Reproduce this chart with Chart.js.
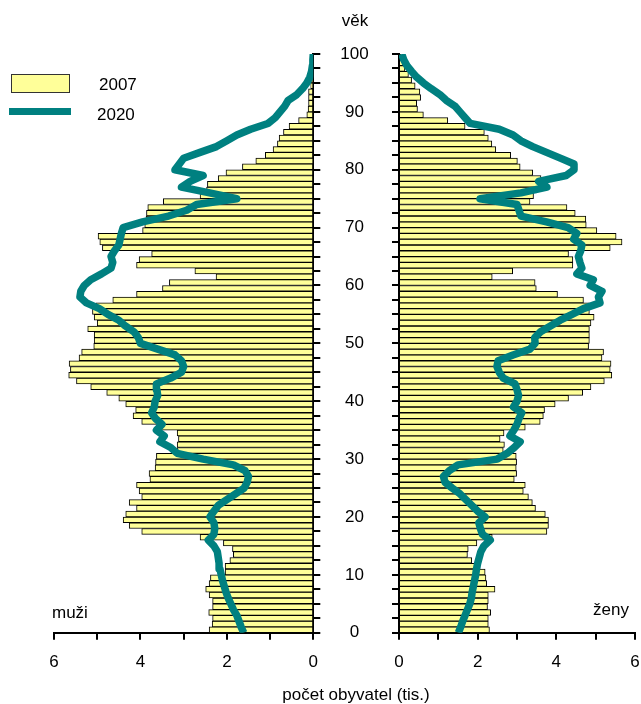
<!DOCTYPE html>
<html>
<head>
<meta charset="utf-8">
<script src="https://cdn.jsdelivr.net/npm/chart.js@4"></script>
<style>
html,body{margin:0;padding:0;background:#fff;}
#wrap{position:relative;width:641px;height:704px;overflow:hidden;font-family:"Liberation Sans",Arial,Helvetica,sans-serif;color:#000;}
canvas{position:absolute;top:0;}
.t{position:absolute;font-size:17px;line-height:17px;white-space:nowrap;}
.c{transform:translateX(-50%);}
</style>
</head>
<body>
<div id="wrap">
  <canvas id="cL" width="400" height="704" style="left:0;width:400px;height:704px"></canvas>
  <canvas id="cR" width="340" height="704" style="left:313px;width:340px;height:704px"></canvas>
  <div class="t c" style="left:355px;top:12px">věk</div>
  <div style="position:absolute;left:11px;top:74px;width:57px;height:17px;background:#FFFF99;border:1px solid #333;"></div>
  <div style="position:absolute;left:9px;top:108px;width:62px;height:7px;background:#008080;"></div>
  <div class="t" style="left:99px;top:76px">2007</div>
  <div class="t" style="left:97px;top:106px">2020</div>
  <div class="t" style="left:52px;top:604px">muži</div>
  <div class="t" style="left:593px;top:601px">ženy</div>
  <div class="t c" style="left:356px;top:686px">počet obyvatel (tis.)</div>
</div>
<script>
// ---- data ----
const barAges = Array.from({length: 100}, (_, i) => i);      // 0..99 (one-year groups)
const lineAges = Array.from({length: 101}, (_, i) => i);     // 0..100
const xTickLabels = [0, 2, 4, 6];
const ageTickLabels = [0, 10, 20, 30, 40, 50, 60, 70, 80, 90, 100];

// muži 2007 (tis.)
const men2007 = [
 2.41,2.34,2.33,2.42,2.33,2.33,2.41,2.49,2.41,2.38,
 2.04,2.04,1.93,1.85,1.87,2.08,2.62,3.97,4.26,4.40,
 4.34,4.09,4.26,3.97,4.03,4.09,3.78,3.80,3.66,3.65,
 3.63,3.15,3.15,3.12,3.15,3.60,3.97,4.17,4.11,4.34,
 4.50,4.78,5.15,5.48,5.66,5.62,5.65,5.42,5.36,5.08,
 5.07,5.07,5.22,5.00,5.07,5.11,5.03,4.64,4.09,3.49,
 3.33,2.25,2.74,4.09,4.03,3.74,4.88,4.94,4.98,3.95,
 3.90,3.87,3.86,3.83,3.47,2.62,2.47,2.45,2.20,2.02,
 1.64,1.33,1.11,0.93,0.83,0.79,0.69,0.56,0.34,0.15,
 0.12,0.11,0.11,0.11,0.06,0.05,0.04,0.03,0.02,0.01
];
// ženy 2007 (tis.)
const women2007 = [
 2.30,2.27,2.27,2.33,2.25,2.27,2.27,2.44,2.23,2.21,
 2.19,2.06,1.85,1.74,1.76,1.98,2.37,3.76,3.80,3.80,
 3.72,3.47,3.39,3.29,3.16,3.21,2.93,2.99,2.98,2.99,
 2.98,2.65,2.68,2.57,2.67,3.21,3.59,3.67,3.70,3.97,
 4.31,4.67,4.88,5.22,5.41,5.37,5.39,5.16,5.20,4.82,
 4.84,4.84,4.84,4.88,4.96,4.84,4.84,4.69,4.03,3.49,
 3.46,2.37,2.89,4.42,4.42,4.31,5.37,5.67,5.52,5.03,
 4.76,4.75,4.48,4.27,3.33,3.42,3.50,3.63,3.61,3.40,
 3.08,3.01,2.84,2.46,2.36,2.27,2.17,1.68,1.24,0.62,
 0.47,0.45,0.55,0.53,0.41,0.32,0.24,0.15,0.11,0.05
];
// muži 2020 (tis.)
const men2020 = [
 1.61,1.67,1.72,1.77,1.85,1.91,1.97,2.02,2.06,2.10,
 2.13,2.16,2.18,2.20,2.22,2.30,2.43,2.30,2.28,2.30,
 2.39,2.30,2.20,2.00,1.80,1.60,1.53,1.50,1.58,1.85,
 2.55,3.15,3.30,3.55,3.45,3.63,3.50,3.65,3.74,3.68,
 3.66,3.60,3.62,3.63,3.30,3.05,3.00,3.05,3.20,3.60,
 4.00,4.05,4.15,4.35,4.50,4.75,4.95,5.25,5.40,5.38,
 5.30,5.15,4.90,4.68,4.64,4.68,4.60,4.50,4.47,4.44,
 4.40,3.95,3.35,2.93,2.70,1.77,2.40,3.05,2.85,2.55,
 3.20,3.10,3.00,2.62,2.24,2.00,1.77,1.45,1.05,0.88,
 0.77,0.66,0.58,0.38,0.25,0.15,0.08,0.04,0.02,0.01,0.00
];
// ženy 2020 (tis.)
const women2020 = [
 1.51,1.57,1.62,1.68,1.74,1.80,1.84,1.86,1.89,1.92,
 1.95,1.97,2.00,2.04,2.08,2.16,2.32,2.12,2.07,2.03,
 2.19,2.00,1.85,1.70,1.55,1.35,1.17,1.13,1.28,1.50,
 2.50,2.75,2.93,3.08,2.82,2.92,3.00,3.05,3.12,2.91,
 3.00,3.04,3.00,2.95,2.65,2.55,2.49,2.52,2.90,3.33,
 3.46,3.45,3.60,3.85,4.10,4.40,4.69,5.11,5.07,5.16,
 4.86,4.94,4.52,4.65,4.60,4.56,4.62,4.65,4.44,4.52,
 4.30,3.75,3.10,3.05,3.00,2.06,3.10,3.76,3.55,4.25,
 4.45,4.45,4.10,3.75,3.40,3.10,2.90,2.55,1.81,1.68,
 1.55,1.42,1.20,1.04,0.82,0.62,0.45,0.32,0.20,0.12,0.07
];

const YELLOW = '#FFFF99';
const TEAL = '#008080';

Chart.defaults.font.family = '"Liberation Sans", Arial, Helvetica, sans-serif';
Chart.defaults.font.size = 17;
Chart.defaults.color = '#000';

function makeChart(id, bars, line, isLeft) {
  return new Chart(document.getElementById(id), {
    data: {
      datasets: [
        {
          type: 'line', label: '2020', indexAxis: 'y',
          data: lineAges.map((a, i) => ({x: line[i], y: a})),
          borderColor: TEAL, borderWidth: 7.5, pointRadius: 0, pointHoverRadius: 0,
          tension: 0, borderJoinStyle: 'round', borderCapStyle: 'butt', order: 0
        },
        {
          type: 'bar', label: '2007', indexAxis: 'y',
          data: barAges.map((a, i) => ({x: bars[i], y: a + 0.5})),
          backgroundColor: YELLOW, borderColor: '#000', borderWidth: 1,
          barPercentage: 1, categoryPercentage: 1, order: 1
        }
      ]
    },
    options: {
      responsive: false,
      animation: false,
      indexAxis: 'y',
      layout: { padding: isLeft ? {left: 54, right: 0, top: 54, bottom: 0}
                                : {left: 0, right: 18, top: 54, bottom: 0} },
      plugins: { legend: {display: false}, tooltip: {enabled: false} },
      scales: {
        x: {
          type: 'linear', min: 0, max: 6, reverse: isLeft, position: 'bottom', offset: false,
          ticks: { stepSize: 1, autoSkip: false, maxRotation: 0, padding: 12,
                   callback: v => xTickLabels.includes(v) ? String(v) : '' },
          grid: { offset: false, drawOnChartArea: false, drawTicks: true, tickLength: 7, color: '#000', lineWidth: 2 },
          border: { display: true, color: '#000', width: 2 },
          afterFit: s => { s.height = 71.3; }
        },
        y: {
          type: 'linear', min: 0, max: 100, position: isLeft ? 'right' : 'left', offset: false,
          ticks: { stepSize: 2.5, autoSkip: false, padding: 20, crossAlign: 'center', display: isLeft,
                   callback: v => ageTickLabels.includes(v) ? String(v) : '' },
          grid: { offset: false, drawOnChartArea: false, drawTicks: true, tickLength: 7, color: '#000', lineWidth: 2 },
          border: { display: true, color: '#000', width: 2 },
          afterFit: s => { s.width = isLeft ? 86.7 : 86; }
        }
      }
    }
  });
}

makeChart('cL', men2007, men2020, true);
makeChart('cR', women2007, women2020, false);
</script>
</body>
</html>
